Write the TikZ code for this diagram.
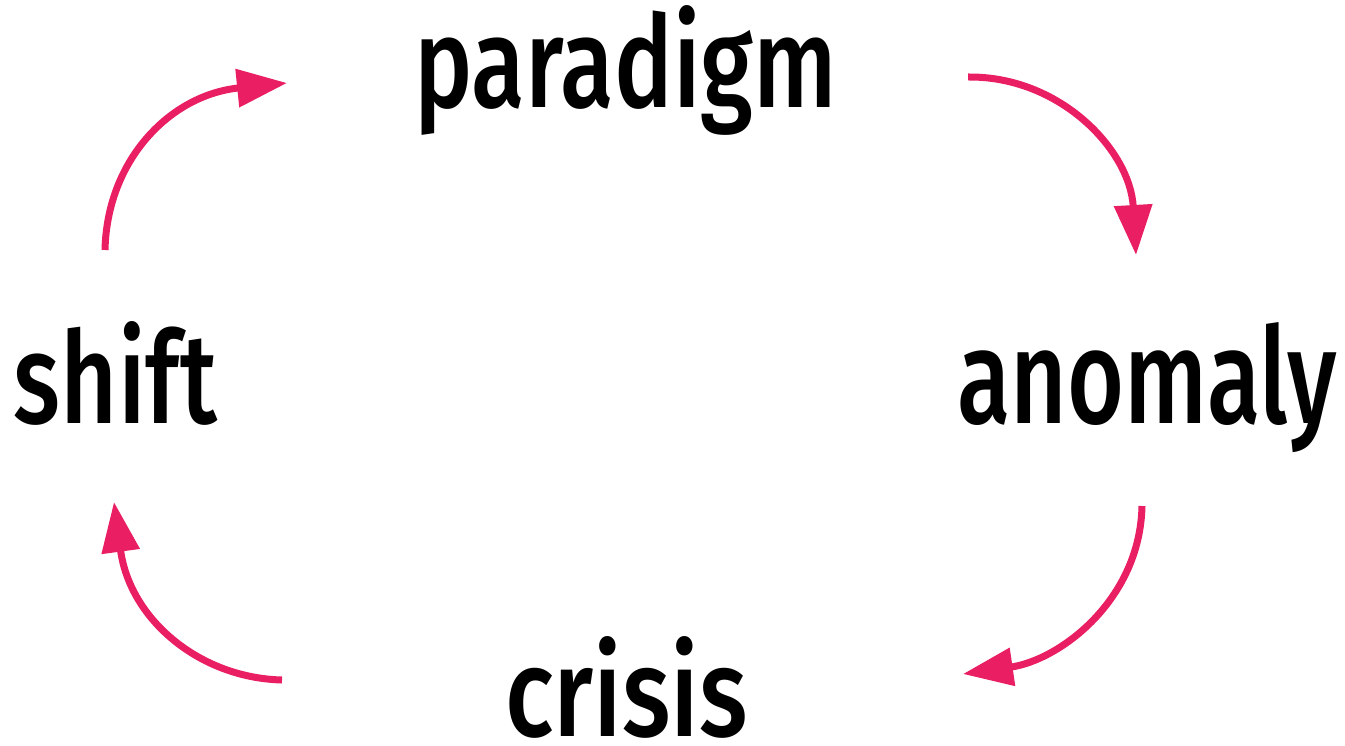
\documentclass[tikz,border=0pt]{standalone}
\usepackage{fontspec}
\setmainfont{Fira Sans}[BoldFont={* Medium}]
\usepackage{graphicx}
\usetikzlibrary{arrows.meta}
\definecolor{kpink}{HTML}{E91E63}
\begin{document}
\begin{tikzpicture}[x=1pt,y=-1pt,
  word/.style={anchor=base west,inner sep=0pt,outer sep=0pt,font=\bfseries\fontsize{100}{100}\selectfont},
  flow/.style={draw=kpink,line width=7pt,-{Triangle[length=50pt,width=37pt]}}]
\useasboundingbox (0,0) rectangle (1345,746);
\node[word] (paradigm) at (414,108) {\resizebox{423pt}{102pt}{paradigm}};
\node[word] (anomaly) at (957,423) {\resizebox{380pt}{101pt}{anomaly}};
\node[word] (shift) at (14,423) {\resizebox{203pt}{102pt}{shift}};
\node[word] (crisis) at (505,736) {\resizebox{243pt}{100pt}{crisis}};
\coordinate (s1) at (105,250);
\coordinate (e1) at (287,83);
\coordinate (s2) at (968,77);
\coordinate (e2) at (1136,255);
\coordinate (s3) at (1142,506);
\coordinate (e3) at (963,674);
\coordinate (s4) at (282,680);
\coordinate (e4) at (114,502);
\draw[flow] (s1) .. controls (107,160) and (170,95) .. (e1);
\draw[flow] (s2) .. controls (1060,76) and (1130,150) .. (e2);
\draw[flow] (s3) .. controls (1140,600) and (1060,660) .. (e3);
\draw[flow] (s4) .. controls (200,678) and (130,620) .. (e4);
\end{tikzpicture}
\end{document}
